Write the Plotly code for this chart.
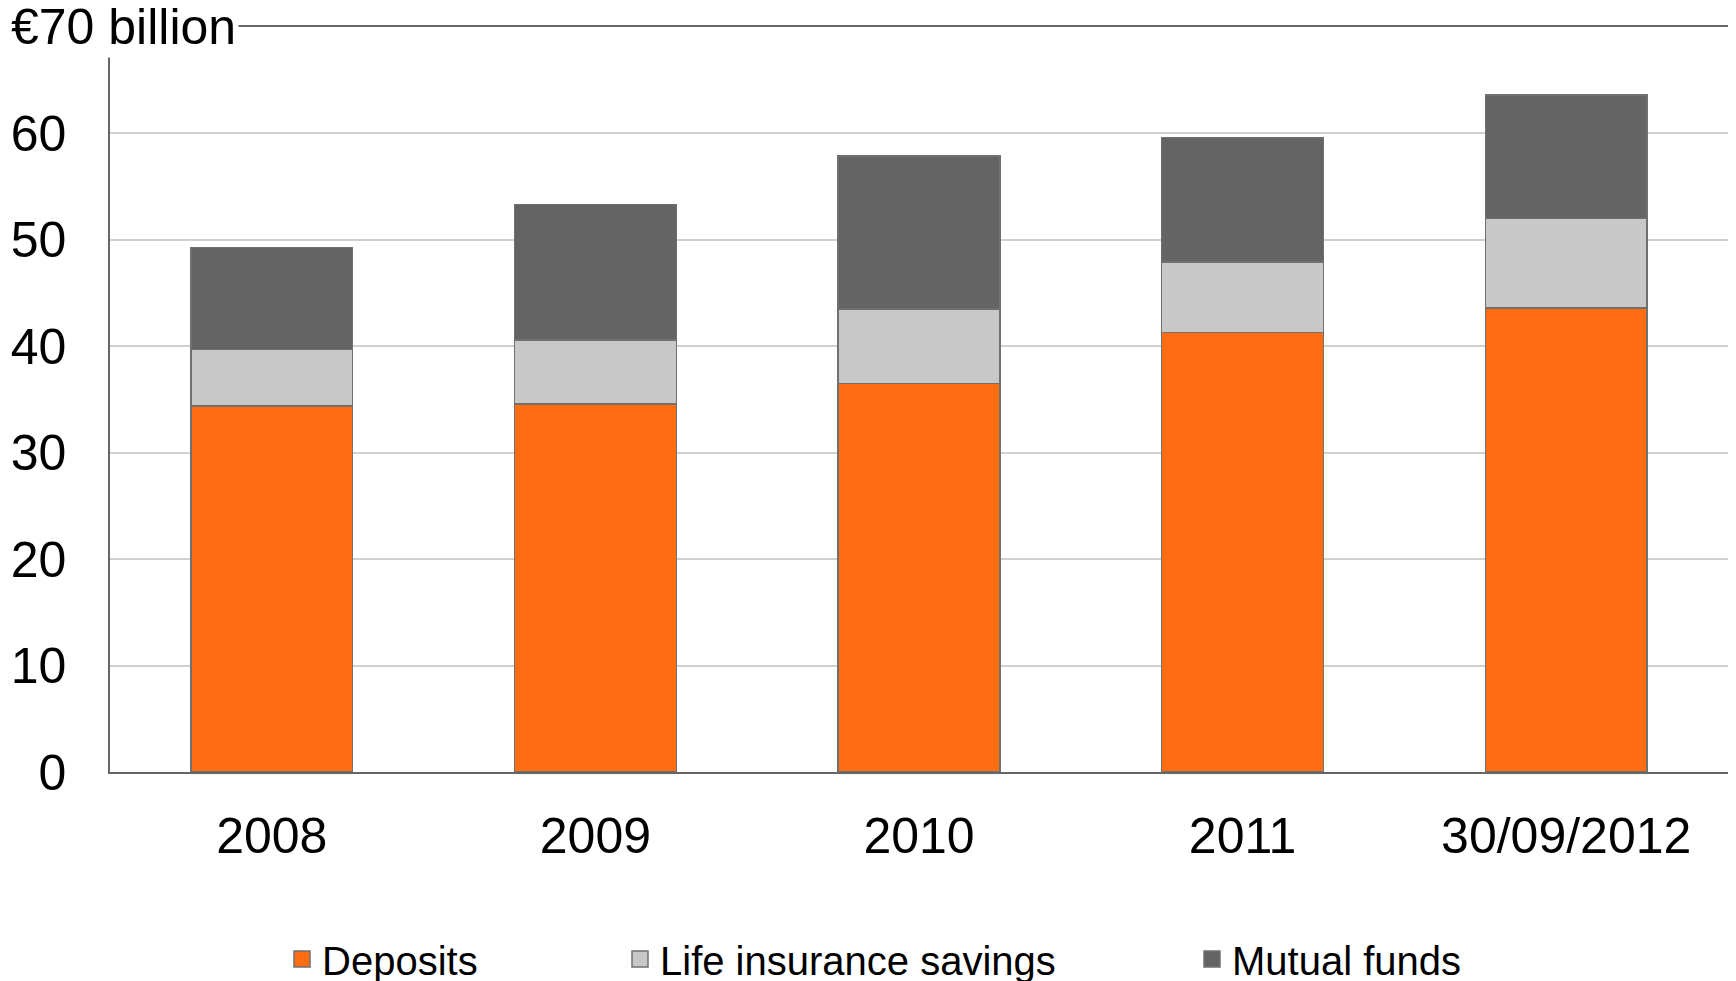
import plotly.graph_objects as go

# Reading of the chart (values in € billion)
periods = ["2008", "2009", "2010", "2011", "30/09/2012"]
deposits = [34.4, 34.6, 36.5, 41.3, 43.6]
life_insurance = [5.3, 6.0, 7.0, 6.6, 8.4]
mutual_funds = [9.6, 12.7, 14.4, 11.7, 11.6]
y_ticks = [0, 10, 20, 30, 40, 50, 60]

FONT = "Liberation Sans, Arial, sans-serif"
outline = "#707070"
W, H = 1720, 973  # page body keeps an 8px margin inside the 1736x981 window

series = [
    ("Deposits", deposits, "#FF6D13", "legend", 274),
    ("Life insurance savings", life_insurance, "#C8C8C8", "legend2", 612),
    ("Mutual funds", mutual_funds, "#646464", "legend3", 1184),
]

fig = go.Figure()
for name, vals, color, leg, _ in series:
    fig.add_trace(
        go.Bar(
            x=periods,
            y=vals,
            name=name,
            marker=dict(color=color, line=dict(color=outline, width=1.5)),
            showlegend=False,
        )
    )
    # legend-only entry, so the key square can be drawn a bit larger
    fig.add_trace(
        go.Scatter(
            x=[None],
            y=[None],
            mode="markers",
            name=name,
            marker=dict(symbol="square", size=16, color=color,
                        line=dict(color=outline, width=1.5)),
            legend=leg,
            showlegend=True,
        )
    )

# one legend per entry so the spacing can follow the original
legend_style = dict(
    orientation="h",
    xref="container",
    yref="container",
    y=22 / H,
    yanchor="middle",
    xanchor="left",
    font=dict(family=FONT, size=40, color="black"),
    bgcolor="rgba(0,0,0,0)",
    itemwidth=30,
)

fig.update_layout(
    width=W,
    height=H,
    barmode="stack",
    bargap=0.5,
    showlegend=True,
    margin=dict(l=102, r=0, t=19, b=209, autoexpand=False),
    paper_bgcolor="white",
    plot_bgcolor="white",
    font=dict(family=FONT, size=50, color="black"),
    legend=dict(legend_style, x=series[0][4] / W),
    legend2=dict(legend_style, x=series[1][4] / W),
    legend3=dict(legend_style, x=series[2][4] / W),
)

fig.update_yaxes(
    range=[0, 70],
    tickvals=y_ticks,
    showgrid=True,
    gridcolor="#D0D0D0",
    gridwidth=1.5,
    zeroline=False,
    showline=True,
    linecolor="#666666",
    linewidth=1.5,
    mirror=True,
    ticks="",
    ticklabelstandoff=32,
    tickfont=dict(size=50),
    automargin=False,
)
fig.update_xaxes(
    showline=True,
    linecolor="#666666",
    linewidth=1.5,
    mirror=True,
    ticks="",
    ticklabelstandoff=19,
    tickfont=dict(size=50),
    automargin=False,
)

# top label sits over the corner of the frame
plot_w = W - 102
fig.add_annotation(
    text="€70 billion",
    xref="paper",
    x=-102 / plot_w,
    xanchor="left",
    yref="y",
    y=70,
    yanchor="middle",
    showarrow=False,
    bgcolor="white",
    borderpad=2,
    font=dict(family=FONT, size=50, color="black"),
)

fig.write_html("out.html")
